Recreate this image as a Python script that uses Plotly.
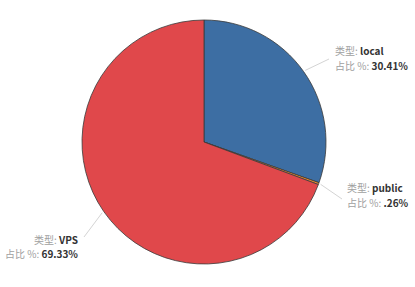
import math
import plotly.graph_objects as go

types = ["local", "public", "VPS"]
shares = [30.41, 0.26, 69.33]
share_labels = ["30.41%", ".26%", "69.33%"]
colors = ["#3d6ea3", "#f28e2b", "#e0484b"]

W, H = 415, 287
cx, cy, r = 204, 142, 122

fig = go.Figure(go.Pie(
    labels=types, values=shares, sort=False, direction="clockwise", rotation=0,
    marker=dict(colors=colors, line=dict(color="#3a3a3a", width=0.8)),
    textinfo="none", hoverinfo="label+percent",
    domain=dict(x=[(cx - r) / W, (cx + r) / W], y=[1 - (cy + r) / H, 1 - (cy - r) / H]),
))

# label placement (pixels): x, y of label centre, alignment, line end point
label_pos = [(333, 58, "left", (329, 59)), (345, 195, "left", (342, 199)), (80, 246, "right", (84, 237))]

total = sum(shares)
acc = 0
shapes, annotations = [], []
font = dict(family="Noto Sans CJK SC, Noto Sans, sans-serif", size=10, color="#333333")
for t, v, sl, (lx, ly, al, end) in zip(types, shares, share_labels, label_pos):
    mid = (acc + v / 2) / total * 2 * math.pi
    acc += v
    ex = cx + (r + 2) * math.sin(mid)
    ey = cy - (r + 2) * math.cos(mid)
    shapes.append(dict(type="line", xref="paper", yref="paper",
                       x0=ex / W, y0=1 - ey / H, x1=end[0] / W, y1=1 - end[1] / H,
                       line=dict(color="#d4d4d4", width=1)))
    lines = [f"<span style='color:#a0a0a0'>类型: </span><b>{t}</b>",
             f"<span style='color:#a0a0a0'>占比 %: </span><b>{sl}</b>"]
    for i, txt in enumerate(lines):
        annotations.append(dict(
            xref="paper", yref="paper", x=lx / W, y=1 - (ly - 7 + 14 * i) / H,
            xanchor=al, yanchor="middle", align=al, showarrow=False,
            text=txt, font=font,
        ))

fig.update_layout(
    width=W, height=H, margin=dict(l=0, r=0, t=0, b=0),
    paper_bgcolor="white", plot_bgcolor="white", showlegend=False,
    shapes=shapes, annotations=annotations,
)
fig.write_html("out.html")
